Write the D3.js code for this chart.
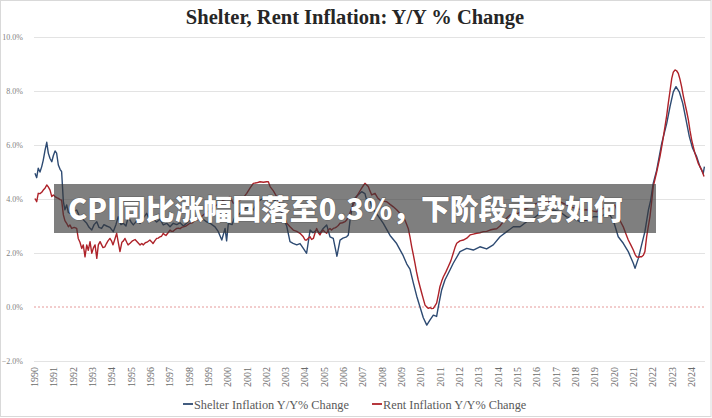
<!DOCTYPE html>
<html><head><meta charset="utf-8">
<script src="https://cdn.jsdelivr.net/npm/d3@7"></script>
<style>
html,body{margin:0;padding:0;background:#fff;}
svg{display:block;}
</style></head>
<body>
<svg id="chart" width="712" height="418"></svg>
<script>
const title = "Shelter, Rent Inflation: Y/Y % Change";
const bannerText = "CPI同比涨幅回落至0.3%，下阶段走势如何";
const seriesNames = ["Shelter Inflation Y/Y% Change", "Rent Inflation Y/Y% Change"];
const yearTicks = d3.range(1990, 2025);
const yTicks = [-2, 0, 2, 4, 6, 8, 10];

const shelterDates = [1990.05,1990.14,1990.22,1990.31,1990.40,1990.48,1990.57,1990.66,1990.74,1990.83,1990.92,1991.00,1991.09,1991.17,1991.26,1991.35,1991.43,1991.52,1991.60,1991.69,1991.78,1991.86,1991.95,1992.07,1992.21,1992.33,1992.47,1992.59,1992.73,1992.85,1992.99,1993.11,1993.25,1993.36,1993.50,1993.62,1993.76,1993.93,1994.10,1994.24,1994.36,1994.50,1994.62,1994.76,1994.88,1995.02,1995.14,1995.33,1995.49,1995.66,1995.83,1996.00,1996.11,1996.35,1996.52,1996.69,1996.87,1997.04,1997.21,1997.39,1997.56,1997.73,1997.90,1998.07,1998.25,1998.42,1998.59,1998.76,1998.94,1999.11,1999.37,1999.54,1999.72,1999.89,1999.97,2000.06,2000.25,2000.40,2000.66,2000.92,2001.18,2001.35,2001.54,2001.70,2001.96,2002.22,2002.47,2002.73,2002.90,2003.08,2003.25,2003.41,2003.60,2003.77,2003.94,2004.11,2004.29,2004.44,2004.63,2004.80,2004.97,2005.15,2005.32,2005.49,2005.58,2005.68,2005.84,2005.99,2006.18,2006.27,2006.36,2006.53,2006.70,2006.87,2006.96,2007.13,2007.22,2007.39,2007.48,2007.74,2008.08,2008.43,2008.77,2009.11,2009.29,2009.46,2009.63,2009.81,2009.98,2010.15,2010.33,2010.50,2010.67,2010.84,2010.93,2011.10,2011.27,2011.53,2011.70,2012.05,2012.40,2012.74,2013.08,2013.43,2013.77,2014.12,2014.47,2014.81,2015.16,2015.50,2015.84,2016.19,2016.53,2016.88,2017.22,2017.57,2017.91,2018.26,2018.61,2018.95,2019.30,2019.64,2019.81,2019.98,2020.24,2020.50,2020.76,2021.02,2021.11,2021.28,2021.45,2021.62,2021.80,2021.92,2022.05,2022.23,2022.49,2022.75,2022.92,2023.09,2023.23,2023.40,2023.58,2023.75,2023.92,2024.09,2024.30,2024.47,2024.64,2024.70];
const shelterValues = [4.95,4.79,5.14,5.0,5.2,5.44,5.8,6.1,5.7,5.5,5.38,5.6,5.78,5.7,5.26,5.1,5.01,3.9,3.6,3.78,3.5,3.47,3.47,3.55,3.59,3.4,3.3,3.2,3.1,2.95,2.85,3.05,3.16,2.95,2.91,3.05,3.0,2.95,2.79,3.05,3.34,3.05,3.1,3.0,3.34,3.15,3.04,3.2,3.1,3.3,3.47,3.2,3.3,3.15,3.25,3.04,3.1,2.97,3.1,3.05,3.12,3.0,3.1,3.22,3.28,3.34,3.2,3.25,3.15,3.1,2.97,2.79,2.48,2.91,2.45,3.1,3.05,3.34,3.47,3.65,3.7,3.59,3.85,3.96,4.05,4.1,3.95,3.7,3.3,3.0,2.42,2.36,2.3,2.35,2.17,1.99,2.85,2.75,2.85,2.73,2.91,3.04,2.6,2.54,2.23,1.88,2.48,2.55,2.6,2.67,3.22,3.96,4.1,4.21,4.27,4.2,3.95,4.02,3.7,3.45,3.1,2.65,2.35,1.9,1.6,1.4,0.9,0.4,0.0,-0.4,-0.67,-0.48,-0.3,-0.35,0.01,0.63,1.0,1.37,1.62,2.05,2.17,2.11,2.23,2.15,2.3,2.6,2.79,2.97,2.97,3.16,3.28,3.47,3.45,3.59,3.53,3.34,3.28,3.16,3.22,3.34,3.34,3.47,3.4,3.22,2.6,2.36,2.05,1.62,1.43,1.8,2.3,2.79,3.59,3.96,4.58,5.07,6.06,6.8,7.42,7.97,8.16,7.97,7.54,6.93,6.31,5.88,5.57,5.2,4.95,5.2];

const rentDates = [1990.05,1990.14,1990.22,1990.31,1990.40,1990.48,1990.57,1990.66,1990.74,1990.83,1990.92,1991.00,1991.09,1991.17,1991.26,1991.35,1991.43,1991.52,1991.60,1991.69,1991.78,1991.86,1991.95,1992.08,1992.21,1992.29,1992.38,1992.47,1992.55,1992.64,1992.73,1992.81,1992.90,1992.99,1993.08,1993.16,1993.25,1993.33,1993.42,1993.50,1993.57,1993.67,1993.75,1993.83,1993.93,1994.01,1994.09,1994.18,1994.28,1994.36,1994.45,1994.55,1994.63,1994.71,1994.80,1994.87,1994.97,1995.10,1995.23,1995.36,1995.49,1995.58,1995.66,1995.76,1995.85,1996.00,1996.08,1996.16,1996.25,1996.35,1996.43,1996.52,1996.60,1996.69,1996.76,1996.83,1996.94,1997.04,1997.12,1997.19,1997.29,1997.39,1997.47,1997.56,1997.64,1997.73,1997.87,1997.97,1998.07,1998.20,1998.32,1998.42,1998.59,1998.76,1998.92,1999.11,1999.28,1999.46,1999.63,1999.80,1999.97,2000.14,2000.32,2000.50,2000.66,2000.84,2001.01,2001.18,2001.35,2001.52,2001.70,2001.87,2002.04,2002.13,2002.22,2002.39,2002.56,2002.73,2002.90,2003.08,2003.25,2003.42,2003.60,2003.77,2003.94,2004.03,2004.11,2004.20,2004.29,2004.37,2004.46,2004.55,2004.63,2004.72,2004.80,2004.88,2004.96,2005.06,2005.15,2005.23,2005.32,2005.40,2005.49,2005.58,2005.67,2005.75,2005.84,2005.97,2006.10,2006.18,2006.27,2006.36,2006.44,2006.57,2006.70,2006.83,2006.96,2007.05,2007.13,2007.22,2007.30,2007.39,2007.48,2007.56,2007.65,2007.78,2007.91,2008.08,2008.26,2008.43,2008.60,2008.77,2008.94,2009.07,2009.20,2009.37,2009.46,2009.55,2009.63,2009.72,2009.80,2009.89,2009.98,2010.07,2010.15,2010.24,2010.33,2010.41,2010.50,2010.58,2010.67,2010.76,2010.84,2010.93,2011.01,2011.10,2011.19,2011.32,2011.44,2011.57,2011.70,2011.79,2011.88,2012.05,2012.22,2012.40,2012.57,2012.74,2012.91,2013.08,2013.26,2013.43,2013.60,2013.77,2013.95,2014.12,2014.29,2014.47,2014.64,2014.81,2014.98,2015.16,2015.33,2015.50,2015.67,2015.84,2016.02,2016.19,2016.36,2016.53,2016.71,2016.88,2017.06,2017.22,2017.40,2017.57,2017.74,2017.91,2018.09,2018.26,2018.43,2018.61,2018.78,2018.95,2019.12,2019.30,2019.47,2019.64,2019.81,2019.98,2020.07,2020.16,2020.24,2020.37,2020.50,2020.63,2020.76,2020.89,2021.02,2021.11,2021.19,2021.28,2021.37,2021.45,2021.54,2021.62,2021.71,2021.80,2021.88,2021.97,2022.05,2022.23,2022.40,2022.53,2022.66,2022.75,2022.83,2022.92,2023.01,2023.09,2023.18,2023.26,2023.35,2023.43,2023.52,2023.60,2023.69,2023.78,2023.87,2023.95,2024.04,2024.12,2024.21,2024.30,2024.38,2024.47,2024.56,2024.62,2024.68];
const rentValues = [4.02,3.9,4.21,4.2,4.25,4.33,4.4,4.52,4.45,4.33,4.09,4.15,4.09,4.05,4.02,3.98,3.96,3.41,3.2,3.1,2.97,3.04,2.91,2.95,2.91,2.54,2.4,2.17,2.3,1.86,2.3,2.1,2.42,1.99,2.2,2.3,1.8,2.3,2.42,2.3,2.2,2.23,2.35,2.45,2.54,2.45,2.3,2.5,2.73,2.4,2.05,2.4,2.45,2.54,2.4,2.3,2.36,2.45,2.5,2.4,2.3,2.35,2.3,2.38,2.4,2.48,2.42,2.35,2.45,2.54,2.55,2.6,2.62,2.73,2.68,2.65,2.75,2.85,2.8,2.8,2.86,2.91,2.92,2.9,2.95,2.97,3.0,3.05,3.1,3.12,3.2,3.22,3.3,3.41,3.5,3.59,3.68,3.78,3.85,3.96,4.0,4.09,3.84,3.9,3.95,4.05,4.21,4.4,4.58,4.6,4.64,4.62,4.64,4.64,4.46,4.3,4.09,3.8,3.47,3.1,2.97,2.85,2.8,2.73,2.6,2.48,2.48,2.55,2.6,2.5,2.54,2.75,2.91,2.75,2.67,2.78,2.85,2.78,2.73,2.85,2.91,2.85,2.91,2.93,2.97,3.02,3.1,3.12,3.16,3.22,3.34,3.5,3.65,3.85,4.09,4.25,4.4,4.5,4.58,4.52,4.46,4.3,4.15,4.18,4.21,4.05,3.96,3.92,3.9,3.8,3.71,3.6,3.47,3.35,3.22,2.91,2.6,2.23,1.95,1.62,1.3,1.0,0.75,0.51,0.3,0.07,0.0,-0.05,-0.02,-0.06,-0.05,0.05,0.14,0.45,0.75,0.95,1.12,1.3,1.49,1.7,1.99,2.2,2.36,2.45,2.48,2.55,2.67,2.7,2.73,2.75,2.79,2.8,2.85,2.88,2.9,3.0,3.16,3.3,3.41,3.42,3.45,3.5,3.59,3.65,3.71,3.78,3.84,3.86,3.9,3.9,3.9,3.92,3.96,3.9,3.84,3.78,3.71,3.68,3.65,3.62,3.59,3.6,3.59,3.55,3.53,3.6,3.65,3.7,3.71,3.75,3.78,3.6,3.34,3.15,2.97,2.72,2.48,2.3,2.11,1.95,1.86,1.84,1.86,1.86,1.92,2.05,2.6,3.0,3.34,3.9,4.46,5.0,5.57,6.1,6.68,7.1,7.54,8.0,8.47,8.7,8.78,8.75,8.65,8.45,8.16,7.85,7.54,7.25,6.93,6.55,6.19,5.95,5.69,5.5,5.32,5.2,5.07,4.95,4.83];

const colors = {shelter: "#2d4a72", rent: "#ae2229"};

const svg = d3.select("#chart");
const W = 712, H = 418;
const plot = {left: 34, right: 705, top: 37, bottom: 361};

// border
svg.append("rect").attr("x", 0.5).attr("y", 0.5).attr("width", W - 1.5).attr("height", H - 2)
  .attr("fill", "#fff").attr("stroke", "#d9d9d9");

const x = d3.scaleLinear().domain([1990, 1990 + (plot.right - plot.left) / 19.32]).range([plot.left, plot.right]);
const y = d3.scaleLinear().domain([-2, 10]).range([plot.bottom, plot.top]);

// title
svg.append("text").attr("x", 355).attr("y", 24).attr("text-anchor", "middle")
  .attr("font-family", "Liberation Serif, serif").attr("font-weight", "bold").attr("font-size", 20.5)
  .attr("fill", "#262626").text(title);

// gridlines
const grid = svg.append("g").attr("transform", `translate(${plot.left},0)`)
  .call(d3.axisLeft(y).tickValues(yTicks.filter(d => d !== 0)).tickSize(-(plot.right - plot.left)).tickFormat(""));
grid.select(".domain").remove();
grid.selectAll("line").attr("stroke", "#e3e3e3");

svg.append("line").attr("x1", plot.left).attr("x2", plot.right).attr("y1", y(0)).attr("y2", y(0))
  .attr("stroke", "#e59a9a").attr("stroke-dasharray", "2,2").attr("stroke-width", 1);

// y axis labels
const yAx = svg.append("g").attr("transform", `translate(${plot.left - 8},0)`)
  .call(d3.axisLeft(y).tickValues(yTicks).tickSize(0).tickFormat(d => d3.format(".1f")(d) + "%"));
yAx.select(".domain").remove();
yAx.selectAll("text").attr("font-family", "Liberation Serif, serif").attr("font-size", 8).attr("fill", "#7f7f7f");

// x axis labels
const xAx = svg.append("g").attr("transform", `translate(0,${plot.bottom})`)
  .call(d3.axisBottom(x).tickValues(yearTicks).tickSize(0).tickFormat(d3.format("d")));
xAx.select(".domain").remove();
xAx.selectAll("text").attr("font-family", "Liberation Serif, serif").attr("font-size", 10).attr("fill", "#6b6b6b")
  .attr("transform", "rotate(-90)").attr("text-anchor", "end").attr("x", -6).attr("y", 0).attr("dy", "0.35em");

// lines
const shelter = shelterDates.map((d, i) => [d, shelterValues[i]]);
const rent = rentDates.map((d, i) => [d, rentValues[i]]);
const line = d3.line().x(d => x(d[0])).y(d => y(d[1]));

svg.append("path").datum(shelter).attr("d", line).attr("fill", "none")
  .attr("stroke", colors.shelter).attr("stroke-width", 1.4).attr("stroke-linejoin", "round");
svg.append("path").datum(rent).attr("d", line).attr("fill", "none")
  .attr("stroke", colors.rent).attr("stroke-width", 1.4).attr("stroke-linejoin", "round");

// legend
const leg = [{name: seriesNames[0], c: colors.shelter, x: 183}, {name: seriesNames[1], c: colors.rent, x: 372}];
leg.forEach(l => {
  svg.append("line").attr("x1", l.x).attr("x2", l.x + 10).attr("y1", 404).attr("y2", 404)
    .attr("stroke", l.c).attr("stroke-width", 1.8);
  svg.append("text").attr("x", l.x + 11).attr("y", 408.5).attr("font-family", "Liberation Serif, serif")
    .attr("font-size", 12.3).attr("fill", "#595959").text(l.name);
});

// banner overlay
svg.append("rect").attr("x", 54).attr("y", 184).attr("width", 602).attr("height", 49)
  .attr("fill", "rgba(55,55,55,0.64)");
svg.append("text").attr("x", 68).attr("y", 220).attr("font-family", "Noto Sans CJK SC, sans-serif")
  .attr("font-weight", "900").attr("font-size", 28.8).attr("fill", "#fff")
  .style("paint-order", "stroke").attr("stroke", "rgba(40,40,40,0.35)").attr("stroke-width", 1.2)
  .text(bannerText);
</script>
</body></html>
